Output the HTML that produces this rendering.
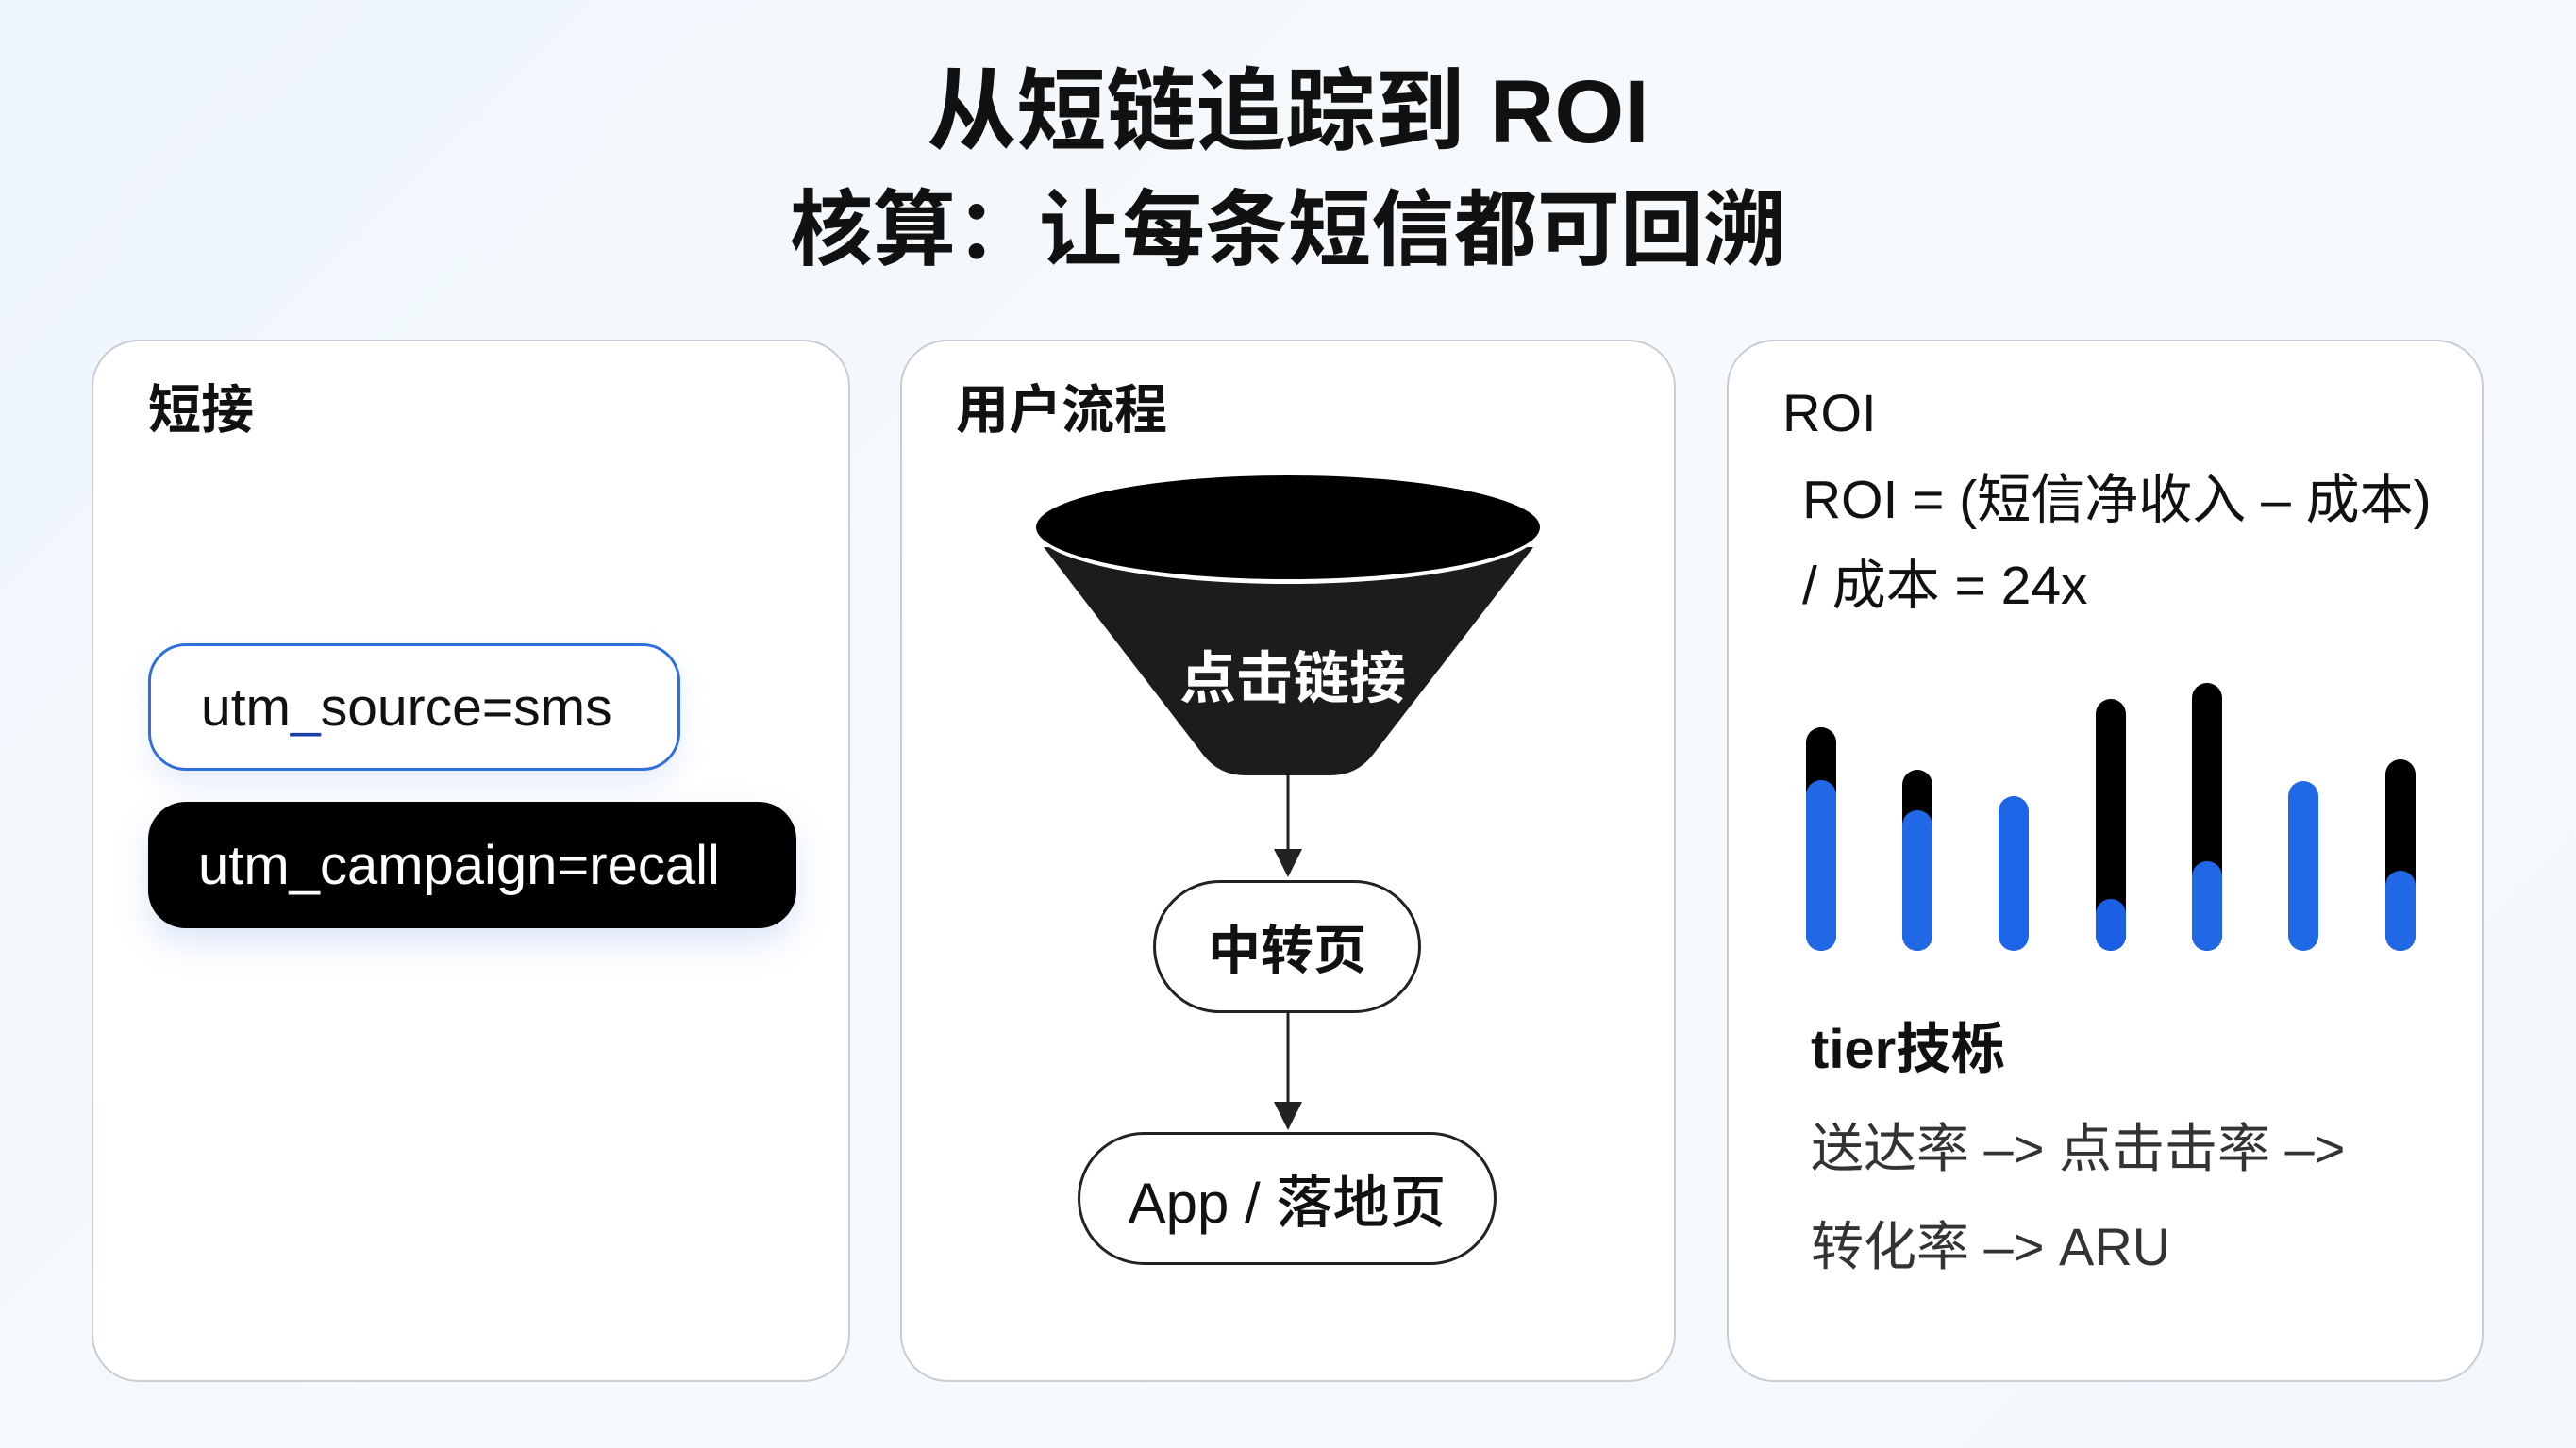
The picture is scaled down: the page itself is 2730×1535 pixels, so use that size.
<!DOCTYPE html>
<html><head><meta charset="utf-8"><style>
html,body{margin:0;padding:0}
body{width:2730px;height:1535px;position:relative;overflow:hidden;background:linear-gradient(135deg,#eef6fb 0%,#f7fafd 50%,#f2f8fb 100%);font-family:"Liberation Sans","Noto Sans CJK SC",sans-serif;color:#111}
.t{position:absolute;left:0;width:2730px;text-align:center;font-weight:bold;line-height:1}
.p{position:absolute;top:360px;height:1105px;background:#fff;border:2px solid #c9cdd3;border-radius:50px;box-sizing:border-box}
.h{position:absolute;font-size:56px;font-weight:bold;line-height:1}
.a{position:absolute;line-height:1;white-space:nowrap}
.pill{position:absolute;box-sizing:border-box;display:flex;align-items:center;font-size:53px}
</style></head><body>
<div class="t" style="top:72px;font-size:95px">从短链追踪到 ROI</div>
<div class="t" style="top:200px;font-size:88px">核算：让每条短信都可回溯</div>

<div class="p" style="left:97px;width:804px"></div>
<div class="p" style="left:954px;width:822px"></div>
<div class="p" style="left:1830px;width:802px"></div>

<div class="h" style="left:157px;top:407px">短接</div>
<div class="pill" style="left:157px;top:682px;width:564px;height:135px;border:3px solid #2f6fdc;border-radius:40px;background:#fff;padding-left:53px;font-size:57px;box-shadow:0 14px 30px rgba(120,160,230,0.18)">utm<span style="color:#1a3fa8">_</span>source=sms</div>
<div class="pill" style="left:157px;top:850px;width:687px;height:134px;border-radius:40px;background:#000;color:#fff;padding-left:53px;font-size:58px;box-shadow:0 16px 34px rgba(120,160,230,0.25)">utm_campaign=recall</div>

<div class="h" style="left:1013px;top:407px">用户流程</div>
<svg style="position:absolute;left:0;top:0" width="2730" height="1535">
<path d="M1106,580 L1275,800 Q1292,822 1320,822 L1410,822 Q1438,822 1455,800 L1625,580 Z" fill="#1c1c1c"/>
<ellipse cx="1365" cy="562" rx="267" ry="57" fill="#fff"/>
<ellipse cx="1365" cy="559" rx="267" ry="55" fill="#000"/>
<line x1="1365" y1="822" x2="1365" y2="906" stroke="#222" stroke-width="3"/>
<path d="M1350,900 L1380,900 L1365,930 Z" fill="#222"/>
<line x1="1365" y1="1074" x2="1365" y2="1172" stroke="#222" stroke-width="3"/>
<path d="M1350,1168 L1380,1168 L1365,1198 Z" fill="#222"/>
<g>
<rect x="1914" y="771" width="32" height="237" rx="16" fill="#000"/><rect x="1914" y="827" width="32" height="181" rx="16" fill="#2168e6"/>
<rect x="2016" y="816" width="32" height="192" rx="16" fill="#000"/><rect x="2016" y="859" width="32" height="149" rx="16" fill="#2168e6"/>
<rect x="2118" y="844" width="32" height="164" rx="16" fill="#1b65e6"/>
<rect x="2221" y="741" width="32" height="267" rx="16" fill="#000"/><rect x="2221" y="953" width="32" height="55" rx="16" fill="#1a60e4"/>
<rect x="2323" y="724" width="32" height="284" rx="16" fill="#000"/><rect x="2323" y="913" width="32" height="95" rx="16" fill="#2168e6"/>
<rect x="2425" y="828" width="32" height="180" rx="16" fill="#1f68e6"/>
<rect x="2528" y="805" width="32" height="203" rx="16" fill="#000"/><rect x="2528" y="923" width="32" height="85" rx="16" fill="#2168e6"/>
</g>
</svg>
<div class="a" style="left:1250px;top:690px;font-size:60px;font-weight:bold;color:#fff">点击链接</div>
<div class="pill" style="left:1222px;top:933px;width:284px;height:141px;border:3px solid #222;border-radius:71px;background:#fff;justify-content:center;font-weight:bold;font-size:56px">中转页</div>
<div class="pill" style="left:1142px;top:1200px;width:444px;height:141px;border:3px solid #222;border-radius:71px;background:#fff;justify-content:center;font-size:60px;font-weight:500">App / 落地页</div>

<div class="a" style="left:1889px;top:410px;font-size:56px">ROI</div>
<div class="a" style="left:1910px;top:502px;font-size:57px">ROI = (短信净收入 – 成本)</div>
<div class="a" style="left:1910px;top:593px;font-size:57px">/ 成本 = 24x</div>
<div class="a" style="left:1919px;top:1084px;font-size:58px;font-weight:bold">tier技栎</div>
<div class="a" style="left:1919px;top:1190px;font-size:56px;color:#333">送达率 –&gt; 点击击率 –&gt;</div>
<div class="a" style="left:1919px;top:1294px;font-size:56px;color:#333">转化率 –&gt; ARU</div>
</body></html>
